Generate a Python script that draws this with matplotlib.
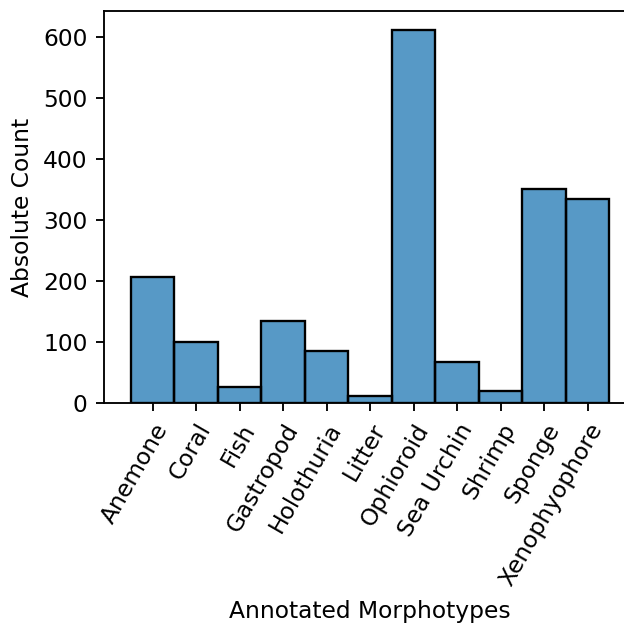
import numpy as np
import matplotlib
matplotlib.use("Agg")
import matplotlib.pyplot as plt

# Annotated morphotype counts
categories = ["Anemone", "Coral", "Fish", "Gastropod", "Holothuria", "Litter",
              "Ophioroid", "Sea Urchin", "Shrimp", "Sponge", "Xenophyophore"]
counts = [207, 100, 27, 135, 86, 11, 612, 67, 20, 350, 335]


def main():
    ndpi = 168
    fig = plt.figure(figsize=(624 / ndpi, 623 / ndpi), dpi=ndpi)
    # right edge of the axes is cut off in the original
    ax = fig.add_axes([0.1667, 0.353, 0.853, 0.629])

    x = np.arange(len(categories))
    ax.bar(x, counts, width=1.0, color='#1f77b4', alpha=0.75, linewidth=0)
    # edges drawn fully opaque like seaborn
    ax.bar(x, counts, width=1.0, facecolor='none', edgecolor='black', linewidth=1.0)

    ax.set_xticks(x)
    ax.set_xticklabels(categories, rotation=60, ha='right', rotation_mode='anchor')
    ax.set_xlabel('Annotated Morphotypes')
    ax.set_ylabel('Absolute Count')
    ax.set_xlim(-0.5 - 0.62, len(categories) - 0.5 + 0.62)
    ax.set_ylim(0, 642)

    fig.savefig('out.png', dpi=ndpi)
    plt.close('all')


if __name__ == '__main__':
    main()
